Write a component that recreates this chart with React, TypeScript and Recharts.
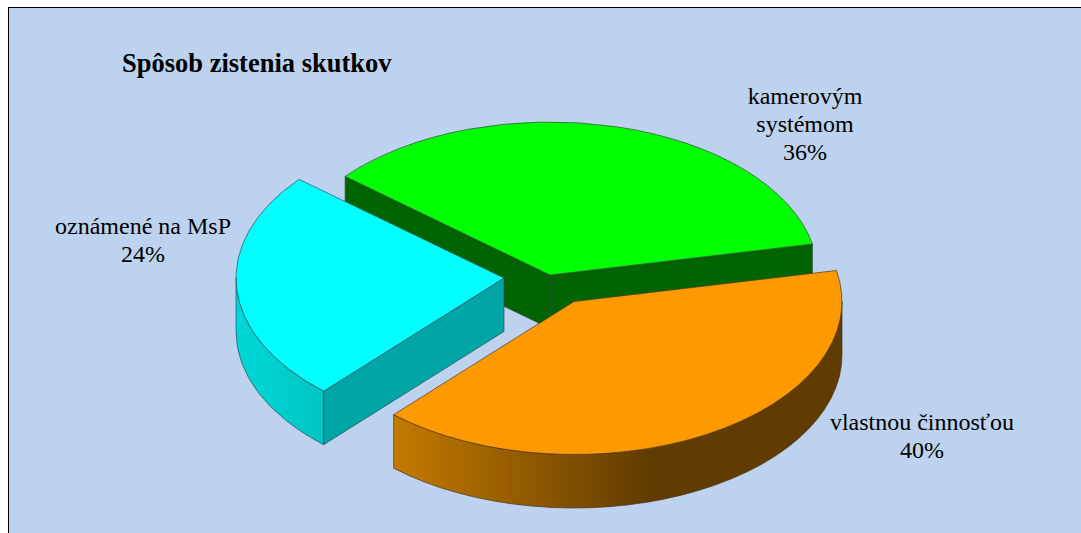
import React from 'react';
import { PieChart, Pie } from 'recharts';

const TITLE = 'Spôsob zistenia skutkov';
const NAMES = ['kamerovým systémom', 'oznámené na MsP', 'vlastnou činnosťou'];
const SHARES = [35.6, 24.4, 40];
const data = NAMES.map((name, i) => ({ name, value: SHARES[i] }));

const FONT = '"Liberation Serif", "Times New Roman", serif';
const W = 1072;
const H = 525;
const CX = 541;
const CY = 267;
const RX = 268;
const SQUASH = 153 / 268;
const DEPTH = 53.5;
const START = 11.7;

type Look = {
  top: string; cut: string; wall: [string, string] | null; gradTo: number;
  shift: [number, number]; lines: string[]; lx: number; ly: number; edge: string;
};
const LOOKS: Record<string, Look> = {
  'kamerovým systémom': { top: '#00ff00', cut: '#006500', wall: null, gradTo: 0, shift: [0, 0], lines: ['kamerovým', 'systémom'], lx: 796, ly: 96, edge: '#3a4a3a' },
  'oznámené na MsP': { top: '#00ffff', cut: '#00a5a5', wall: ['#00d8d8', '#00c4c4'], gradTo: 314, shift: [-46, 3], lines: ['oznámené na MsP'], lx: 134, ly: 226, edge: '#3a4a55' },
  'vlastnou činnosťou': { top: '#ff9900', cut: '#996000', wall: ['#c47a00', '#613c00'], gradTo: 640, shift: [24, 26.5], lines: ['vlastnou činnosťou'], lx: 913, ly: 422, edge: '#4a3520' },
};

const rad = (d: number) => (d * Math.PI) / 180;

function Slice(props: any) {
  const { cx, cy, outerRadius, startAngle, endAngle, name } = props;
  const look = LOOKS[name] ?? LOOKS[props.payload?.name];
  const a0 = Math.min(startAngle, endAngle);
  const a1 = Math.max(startAngle, endAngle);
  const rx = outerRadius;
  const ry = outerRadius * SQUASH;
  const ox = cx + look.shift[0];
  const oy = cy + look.shift[1];
  const pt = (deg: number, d = 0) => `${ox + rx * Math.cos(rad(deg))} ${oy - ry * Math.sin(rad(deg)) + d}`;
  const large = a1 - a0 > 180 ? 1 : 0;
  const top = `M ${ox} ${oy} L ${pt(a0)} A ${rx} ${ry} 0 ${large} 0 ${pt(a1)} Z`;
  const cutFace = (deg: number) =>
    `M ${ox} ${oy} L ${pt(deg)} L ${pt(deg, DEPTH)} L ${ox} ${oy + DEPTH} Z`;
  const w0 = Math.max(a0, 180);
  const w1 = Math.min(a1, 360);
  const hasWall = w1 > w0 && look.wall;
  const wall = `M ${pt(w0)} A ${rx} ${ry} 0 0 0 ${pt(w1)} L ${pt(w1, DEPTH)} A ${rx} ${ry} 0 0 1 ${pt(w0, DEPTH)} Z`;
  const gradId = `wall-${look.top.slice(1)}`;
  const gradFrom = ox + rx * Math.cos(rad(a0 >= 180 ? a0 : 180));
  const stroke = { stroke: look.edge, strokeWidth: 0.7, strokeLinejoin: 'round' as const };
  return (
    <g>
      {hasWall && look.wall ? (
        <defs>
          <linearGradient id={gradId} gradientUnits="userSpaceOnUse" x1={gradFrom} y1={0} x2={look.gradTo} y2={0}>
            <stop offset="0" stopColor={look.wall[0]} />
            <stop offset="1" stopColor={look.wall[1]} />
          </linearGradient>
        </defs>
      ) : null}
      {Math.cos(rad(a0)) > 0 ? <path d={cutFace(a0)} fill={look.cut} {...stroke} /> : null}
      {Math.cos(rad(a1)) < 0 ? <path d={cutFace(a1)} fill={look.cut} {...stroke} /> : null}
      {hasWall ? <path d={wall} fill={`url(#${gradId})`} {...stroke} /> : null}
      <path d={top} fill={look.top} {...stroke} />
    </g>
  );
}

function SliceLabel(props: any) {
  const look = LOOKS[props.name] ?? LOOKS[props.payload?.name];
  const rows = [...look.lines, `${Math.round(props.percent * 100)}%`];
  return (
    <text x={look.lx} y={look.ly} textAnchor="middle" fontFamily={FONT} fontSize={24} fill="#000">
      {rows.map((r, i) => (
        <tspan key={r} x={look.lx} dy={i === 0 ? 0 : 28}>{r}</tspan>
      ))}
    </text>
  );
}

export default function App() {
  return (
    <div style={{ position: 'absolute', left: 8, top: 7, width: W, height: H, background: '#bdd2ee', borderLeft: '1px solid #000', borderTop: '1px solid #000', overflow: 'hidden' }}>
      <PieChart width={W} height={H} margin={{ top: 0, right: 0, bottom: 0, left: 0 }}>
        <text x={113} y={64} fontFamily={FONT} fontSize={26.5} fontWeight="bold" fill="#000">{TITLE}</text>
        <Pie
          data={data}
          dataKey="value"
          nameKey="name"
          cx={CX}
          cy={CY}
          innerRadius={0}
          outerRadius={RX}
          startAngle={START}
          endAngle={START + 360}
          paddingAngle={0}
          isAnimationActive={false}
          stroke="none"
          labelLine={false}
          label={SliceLabel}
          shape={Slice}
          activeShape={Slice}
          inactiveShape={Slice}
        />
      </PieChart>
    </div>
  );
}
